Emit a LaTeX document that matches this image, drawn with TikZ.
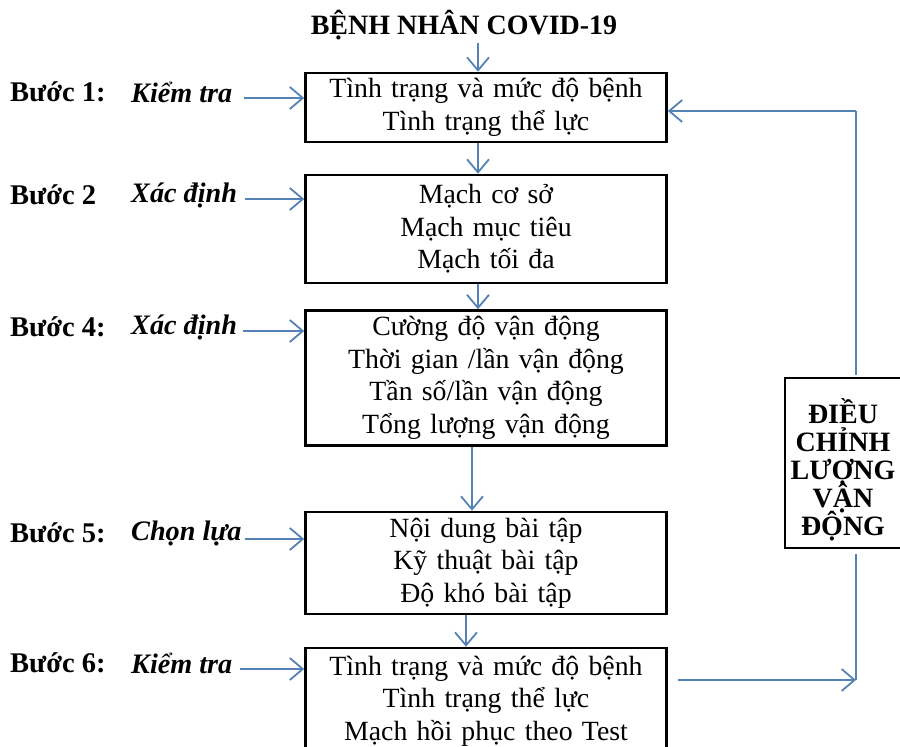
\documentclass[tikz,border=0pt]{standalone}
\usepackage{fontspec}
\setmainfont{Liberation Serif}
\usetikzlibrary{arrows.meta,calc,positioning}
\definecolor{flowblue}{RGB}{84,130,180}
\newcommand{\tightlines}{\lineskiplimit=-20pt\relax}
\tikzset{%
	stepbox/.style  = {draw, line width=2.6pt, rectangle, minimum width=361pt, text width=355pt, align=center, inner sep=0pt, font=\fontsize{27.8}{32.5}\selectfont},
	sidebox/.style  = {draw, line width=2.6pt, rectangle, minimum width=122pt, minimum height=170pt, inner sep=0pt},
	sidetext/.style = {align=center, inner sep=0pt, font=\fontsize{28}{28}\selectfont\bfseries\tightlines},
	steplabel/.style= {anchor=west, inner sep=0pt, font=\fontsize{28.5}{30}\selectfont\bfseries},
	stepverb/.style = {anchor=west, inner sep=0pt, font=\fontsize{28.2}{30}\selectfont\bfseries\itshape},
	arrow/.style    = {line width=1.8pt, flowblue, -{Straight Barb[length=13pt,width=22pt,line width=1.8pt]}},
	line/.style     = {line width=1.8pt, flowblue},
}
\begin{document}
\begin{tikzpicture}[x=1pt,y=-1pt]
	\useasboundingbox (0,0) rectangle (900,747);
	% title
	\node[font=\fontsize{28}{30}\selectfont\bfseries] (title) at (464,25) {BỆNH NHÂN COVID-19};
	% main boxes
	\node[stepbox, minimum height=69pt]  (b1) at (486,107.5) {Tình trạng và mức độ bệnh\\Tình trạng thể lực};
	\node[stepbox, minimum height=108pt] (b2) at (486,229) {Mạch cơ sở\\Mạch mục tiêu\\Mạch tối đa};
	\node[stepbox, minimum height=135pt] (b3) at (486,378) {Cường độ vận động\\Thời gian /lần vận động\\Tần số/lần vận động\\Tổng lượng vận động};
	\node[stepbox, minimum height=102pt] (b4) at (486,563) {Nội dung bài tập\\Kỹ thuật bài tập\\Độ khó bài tập};
	\node[stepbox, minimum height=106pt] (b5) at (486,701) {Tình trạng và mức độ bệnh\\Tình trạng thể lực\\Mạch hồi phục theo Test};
	% adjustment box (cut by the right margin)
	\node[sidebox] (adj) at (846,463) {};
	\node[sidetext] (adjtext) at (843,470) {ĐIỀU\\CHỈNH\\LƯỢNG\\VẬN\\ĐỘNG};
	% step labels
	\node[steplabel] (s1) at (10,92)  {Bước 1:};
	\node[steplabel] (s2) at (10,195) {Bước 2};
	\node[steplabel] (s4) at (10,327) {Bước 4:};
	\node[steplabel] (s5) at (10,533) {Bước 5:};
	\node[steplabel] (s6) at (10,663) {Bước 6:};
	\node[stepverb] (v1) at (131,92)  {Kiểm tra};
	\node[stepverb] (v2) at (131,195) {Xác định};
	\node[stepverb] (v4) at (131,327) {Xác định};
	\node[stepverb] (v5) at (131,533) {Chọn lựa};
	\node[stepverb] (v6) at (131,663) {Kiểm tra};
	% arrows into the boxes
	\draw[arrow] ($(v1.east)+(12,6)$) -- (b1.west |- 0,98);
	\draw[arrow] ($(v2.east)+(8,4)$) -- (b2.west |- 0,199);
	\draw[arrow] ($(v4.east)+(6,4)$) -- (b3.west |- 0,331);
	\draw[arrow] ($(v5.east)+(3,6)$) -- (b4.west |- 0,539);
	\draw[arrow] ($(v6.east)+(8,6)$) -- (b5.west |- 0,669);
	% down the chain
	\draw[arrow] (title.south -| 478,0) -- (b1.north -| 478,0);
	\draw[arrow] (b1.south -| 478,0) -- (b2.north -| 478,0);
	\draw[arrow] (b2.south -| 478,0) -- (b3.north -| 478,0);
	\draw[arrow] (b3.south -| 472,0) -- (b4.north -| 472,0);
	\draw[arrow] (b4.south -| 466,0) -- (b5.north -| 466,0);
	% feedback loop
	\coordinate (c1) at (856,680);
	\draw[arrow] ($(b5.east |- c1)+(10,0)$) -- (c1);
	\draw[line] (c1) -- ($(adj.south -| c1)+(0,5)$);
	\draw[line] ($(adj.north -| c1)+(0,-2)$) -- (856,111) coordinate (c2);
	\draw[arrow] (c2) -- (b1.east |- c2);
\end{tikzpicture}
\end{document}
